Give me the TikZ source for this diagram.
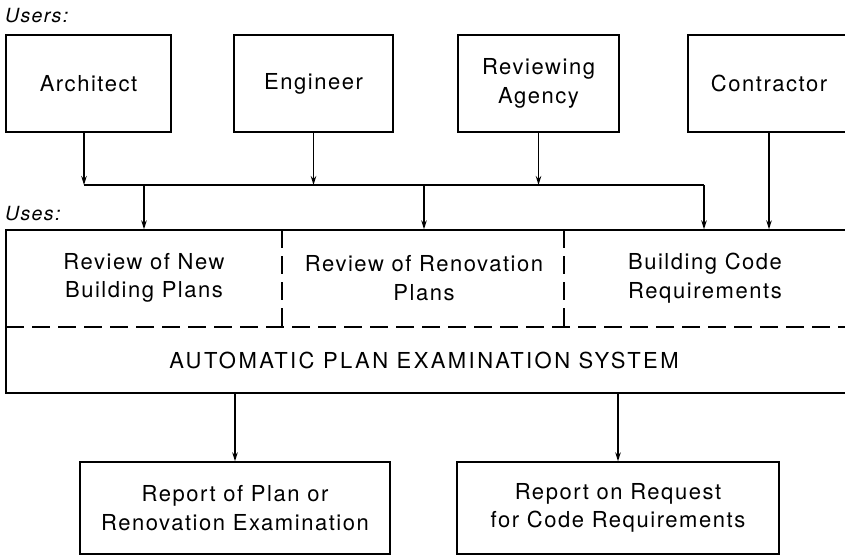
\documentclass[tikz,border=0pt]{standalone}
\usepackage{fontspec}
\setmainfont{TeX Gyre Heros}[LetterSpace=7]
\usetikzlibrary{arrows.meta}
\begin{document}
\begin{tikzpicture}[x=1pt,y=-1pt,
  box/.style={draw,line width=1.4pt,inner sep=0pt,align=center,
    font=\fontsize{22}{28.5}\selectfont},
  txt/.style={inner sep=0pt,align=center,font=\fontsize{22}{28.5}\selectfont},
  lbl/.style={inner sep=0pt,anchor=base west,font=\fontsize{19.5}{20}\selectfont\itshape},
  arr/.style={line width=1.4pt,-{Stealth[length=9pt,width=5.5pt]}},
  link/.style={line width=1.4pt},
  sep/.style={line width=1.4pt,dash pattern=on 18pt off 8pt}]
\useasboundingbox (0,0) rectangle (845,555);

% user row
\node[lbl] (users) at (5,22) {Users:};
\node[box,minimum width=165pt,minimum height=97pt] (arch) at (88.5,83.5) {Architect};
\node[box,minimum width=159pt,minimum height=97pt] (eng) at (313.5,83.5) {Engineer};
\node[box,minimum width=161pt,minimum height=97pt] (agy) at (538.5,83.5) {Reviewing\\Agency};
\node[box,minimum width=162pt,minimum height=97pt] (con) at (769,83.5) {Contractor};

% collecting bus
\coordinate (busL) at (84,185);
\coordinate (busR) at (704,185);

% system block with its uses
\node[lbl] (uses) at (5,220) {Uses:};
\node[box,minimum width=844pt,minimum height=163pt] (sys) at (428,311.5) {};
\node[txt] (use1) at (144,278) {Review of New\\Building Plans};
\node[txt] (use2) at (424,278) {Review of Renovation\\Plans};
\node[txt] (use3) at (705,278) {Building Code\\Requirements};
\node[txt] (apes) at (424,360) {\addfontfeature{LetterSpace=11}AUTOMATIC PLAN EXAMINATION SYSTEM};

\coordinate (dl) at (6,327);
\coordinate (dr) at (850,327);
\coordinate (d1) at (282,230);
\coordinate (d2) at (564,230);
\draw[sep] (dl) -- (dr);
\draw[sep] (d1) -- (d1 |- dl);
\draw[sep] (d2) -- (d2 |- dl);

% reports
\node[box,minimum width=310pt,minimum height=92pt] (rep1) at (235,508) {Report of Plan or\\Renovation Examination};
\node[box,minimum width=322pt,minimum height=92pt] (rep2) at (618,508) {Report on Request\\for Code Requirements};

% connectors
\draw[arr] (busL |- arch.south) -- (busL);
\draw[arr] (eng.south) -- (eng.south |- busL);
\draw[arr] (agy.south) -- (agy.south |- busL);
\draw[link] (busL) -- (busR);
\draw[arr] (use1 |- busL) -- (use1 |- sys.north);
\draw[arr] (use2 |- busL) -- (use2 |- sys.north);
\draw[arr] (busR) -- (busR |- sys.north);
\draw[arr] (con.south) -- (con.south |- sys.north);
\draw[arr] (sys.south -| rep1) -- (rep1.north);
\draw[arr] (sys.south -| rep2) -- (rep2.north);
\end{tikzpicture}
\end{document}
